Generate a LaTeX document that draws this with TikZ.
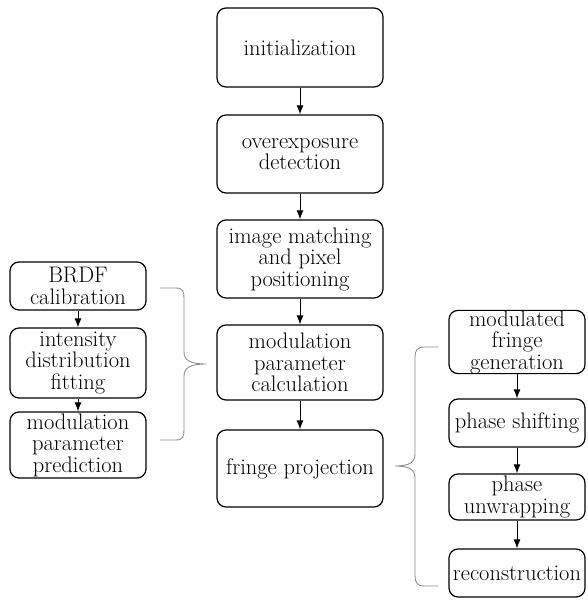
\documentclass[tikz,border=0pt]{standalone}
\usetikzlibrary{arrows.meta}
\begin{document}
\begin{tikzpicture}[x=1pt,y=-1pt,
  box/.style={draw, line width=1.2pt, rounded corners=9pt, align=center, inner sep=0pt,
    font=\fontsize{22.5}{21.5}\selectfont},
  arr/.style={line width=1pt, -{Latex[length=9pt,width=7pt]}},
  brace/.style={draw=black!45, line width=0.9pt}]
\useasboundingbox (0,0) rectangle (587,601);
% centre column
\node[box, minimum width=166pt, minimum height=79pt] (init) at (300,47.5) {initialization};
\node[box, minimum width=166pt, minimum height=78pt] (over) at (300,154) {overexposure\\detection};
\node[box, minimum width=166pt, minimum height=78pt] (match) at (300,259) {image matching\\and pixel\\positioning};
\node[box, minimum width=166pt, minimum height=75pt] (calc) at (300,362.5) {modulation\\parameter\\calculation};
\node[box, minimum width=166pt, minimum height=77pt] (proj) at (300,468.5) {fringe projection};
% left column
\node[box, minimum width=136pt, minimum height=48pt] (brdf) at (78,286) {BRDF\\calibration};
\node[box, minimum width=136pt, minimum height=70pt] (fit) at (78,363) {intensity\\distribution\\fitting};
\node[box, minimum width=136pt, minimum height=66pt] (pred) at (78,445) {modulation\\parameter\\prediction};
% right column
\node[box, minimum width=136pt, minimum height=62pt] (gen) at (517,342) {modulated\\fringe\\generation};
\node[box, minimum width=136pt, minimum height=48pt] (shift) at (517,423) {phase shifting};
\node[box, minimum width=136pt, minimum height=46pt] (unwrap) at (517,497) {phase\\unwrapping};
\node[box, minimum width=136pt, minimum height=48pt] (recon) at (517,573) {reconstruction};
% arrows
\draw[arr] (init) -- (over);
\draw[arr] (over) -- (match);
\draw[arr] (match) -- (calc);
\draw[arr] (calc) -- (proj);
\draw[arr] (brdf) -- (fit);
\draw[arr] (fit) -- (pred);
\draw[arr] (gen) -- (shift);
\draw[arr] (shift) -- (unwrap);
\draw[arr] (unwrap) -- (recon);
% braces
\coordinate (lt) at (160,288);
\coordinate (lb) at (160,440);
\coordinate (ltip) at (206,364);
\draw[brace] (lt) -- (176,288) .. controls (183,288) and (184,292) .. (184,298)
  -- (184,352) .. controls (184,360) and (190,364) .. (ltip)
  .. controls (190,364) and (184,368) .. (184,376)
  -- (184,430) .. controls (184,436) and (183,440) .. (176,440) -- (lb);
\coordinate (rt) at (438,347);
\coordinate (rb) at (438,586);
\coordinate (rtip) at (395,466);
\draw[brace] (rt) -- (424,347) .. controls (417,347) and (415,351) .. (415,357)
  -- (415,454) .. controls (415,462) and (410,466) .. (rtip)
  .. controls (410,466) and (415,470) .. (415,478)
  -- (415,576) .. controls (415,582) and (417,586) .. (424,586) -- (rb);
\end{tikzpicture}
\end{document}
